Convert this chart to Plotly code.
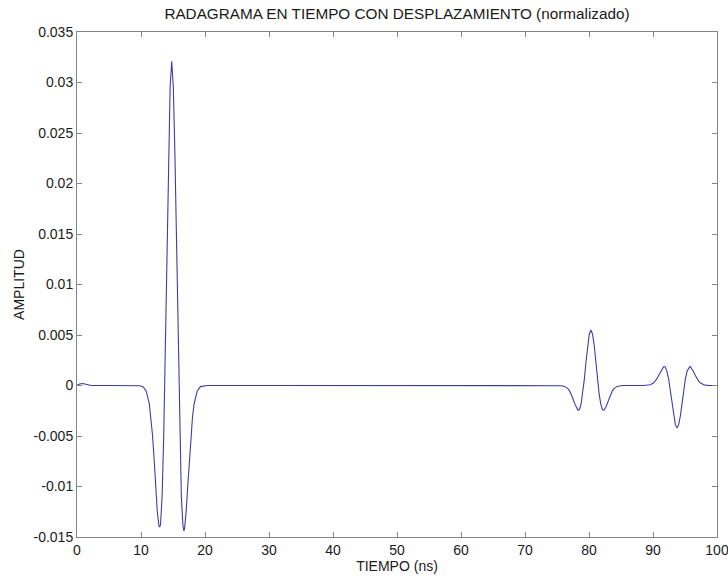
import plotly.graph_objects as go

# ---- data ----
tiempo_ns = [
    0.0, 0.4, 0.9, 1.5, 2.2, 5.0, 9.3,
    9.8, 10.3, 10.8, 11.3, 11.55, 11.8, 12.05, 12.3, 12.55, 12.8, 12.9, 13.05,
    13.3, 13.55, 13.8, 14.05, 14.3, 14.55, 14.8, 15.05, 15.3, 15.55, 15.8,
    16.05, 16.3, 16.55, 16.7, 16.8, 17.05, 17.3, 17.55, 17.8, 18.05, 18.3,
    18.8, 19.3, 19.8, 20.3, 30.0, 40.0, 50.0, 60.0, 70.0, 75.15,
    75.66, 76.18, 76.7, 76.95, 77.21, 77.47, 77.72, 77.98, 78.24, 78.34, 78.5,
    78.75, 79.01, 79.27, 79.53, 79.78, 80.04, 80.3, 80.56, 80.82, 81.07,
    81.33, 81.59, 81.85, 82.1, 82.26, 82.36, 82.62, 82.88, 83.13, 83.39,
    83.65, 83.9, 84.42, 84.94, 85.45, 88.5,
    89.02, 89.55, 90.07, 90.34, 90.6, 90.86, 91.12, 91.39, 91.65, 91.75,
    91.91, 92.17, 92.44, 92.7, 92.96, 93.22, 93.49, 93.75, 94.01, 94.28,
    94.54, 94.8, 95.06, 95.33, 95.59, 95.75, 95.85, 96.11, 96.38, 96.64,
    96.9, 97.16, 97.43, 97.95, 98.48, 99.0, 100.0,
]
amplitud = [
    0.0, 0.00015, 0.0002, 0.0001, 0.0, 0.0, 0.0,
    -0.00002, -0.00011, -0.00051, -0.00181, -0.00309, -0.00493, -0.0073, -0.0100, -0.01252, -0.0139, -0.0140, -0.0138,
    -0.01093, -0.00499, 0.00357, 0.01349, 0.02285, 0.02955, 0.0321, 0.02955, 0.02285, 0.01349, 0.00357,
    -0.00499, -0.01093, -0.01385, -0.0144, -0.0142, -0.01252, -0.0100, -0.0073, -0.00493, -0.00309, -0.00181,
    -0.00051, -0.00011, -0.00002, 0.0, 0.0, 0.0, 0.00003, 0.0, 0.0, 0.0,
    -0.00002, -0.00009, -0.00031, -0.00053, -0.00085, -0.00126, -0.00172, -0.00215, -0.00243, -0.00245, -0.00238,
    -0.00188, -0.00086, 0.00061, 0.00232, 0.00393, 0.00508, 0.0055, 0.00508, 0.00393, 0.00232,
    0.00061, -0.00086, -0.00188, -0.00238, -0.00245, -0.00243, -0.00215, -0.00172, -0.00126, -0.00085,
    -0.00053, -0.00031, -0.00009, -0.00002, 0.0, 0.0,
    0.00001, 0.00007, 0.00024, 0.00041, 0.00065, 0.00096, 0.00131, 0.00164, 0.00185, 0.00187,
    0.00182, 0.00143, 0.00065, -0.00047, -0.00177, -0.0030, -0.00388, -0.0042, -0.00388, -0.0030,
    -0.00177, -0.00047, 0.00065, 0.00143, 0.00182, 0.00187, 0.00185, 0.00164, 0.00131, 0.00096,
    0.00065, 0.00041, 0.00024, 0.00007, 0.00001, 0.0, 0.0,
]
x_ticks = [0, 10, 20, 30, 40, 50, 60, 70, 80, 90, 100]
x_tick_labels = ["0", "10", "20", "30", "40", "50", "60", "70", "80", "90", "100"]
y_ticks = [-0.015, -0.01, -0.005, 0, 0.005, 0.01, 0.015, 0.02, 0.025, 0.03, 0.035]
y_tick_labels = ["-0.015", "-0.01", "-0.005", "0", "0.005", "0.01", "0.015",
                 "0.02", "0.025", "0.03", "0.035"]

FONT = "Liberation Sans, Arial, sans-serif"
AX = "#858585"

fig = go.Figure(go.Scatter(
    x=tiempo_ns, y=amplitud, mode="lines",
    line=dict(color="#3c3cab", width=1.1),
    hoverinfo="skip", showlegend=False,
))

axis_common = dict(
    showgrid=False, zeroline=False, showline=True, linecolor=AX, linewidth=1,
    mirror="ticks", ticks="inside", ticklen=5, tickcolor=AX, tickwidth=1,
    tickfont=dict(family=FONT, size=14, color="#1a1a1a"),
    ticklabeloverflow="allow",
)

fig.update_layout(
    width=728, height=576,
    margin=dict(l=77, r=11, t=32, b=39, autoexpand=False),
    paper_bgcolor="white", plot_bgcolor="white",
    font=dict(family=FONT, size=14, color="#1a1a1a"),
    title=dict(text="RADAGRAMA EN TIEMPO CON DESPLAZAMIENTO (normalizado)",
               x=(77 + 717) / 2 / 728, xanchor="center", y=1 - 14 / 576, yanchor="middle",
               font=dict(family=FONT, size=15.3, color="#1a1a1a")),
    xaxis=dict(range=[0, 100], tickvals=x_ticks, ticktext=x_tick_labels,
               title=dict(text="TIEMPO (ns)", standoff=2,
                          font=dict(family=FONT, size=14, color="#1a1a1a")),
               **axis_common),
    yaxis=dict(range=[-0.015, 0.035], tickvals=y_ticks, ticktext=y_tick_labels,
               title=dict(text="AMPLITUD", standoff=5,
                          font=dict(family=FONT, size=14, color="#1a1a1a")),
               **axis_common),
)

fig.write_html("out.html")
